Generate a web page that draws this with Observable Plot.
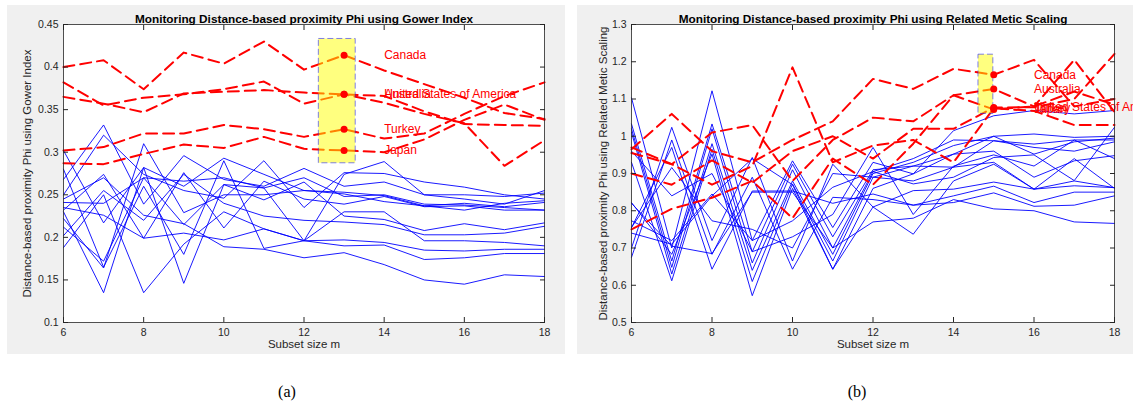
<!DOCTYPE html>
<html><head><meta charset="utf-8">
<script src="https://cdn.jsdelivr.net/npm/d3@7"></script>
<script src="https://cdn.jsdelivr.net/npm/@observablehq/plot@0.6"></script>
<style>
body{margin:0;background:#fff;width:1140px;height:410px;position:relative;overflow:hidden;font-family:"Liberation Sans",Arial,sans-serif}
.panel{position:absolute;top:5px;background:#f0f0f0}
.panel svg{display:block}
.cap{position:absolute;top:383px;font-family:"Liberation Serif","Times New Roman",serif;font-size:16px;transform:translateX(-50%);color:#000}
</style></head><body>
<div id="pa" class="panel" style="left:7px"></div>
<div id="pb" class="panel" style="left:577px"></div>
<div class="cap" style="left:287px">(a)</div>
<div class="cap" style="left:857px">(b)</div>
<script>
// ---------- data ----------
const subsetSizes = [6, 7, 8, 9, 10, 11, 12, 13, 14, 15, 16, 17, 18];
const countries = ["Canada", "United States of America", "Australia", "Turkey", "Japan"];
const xTicks = [6, 8, 10, 12, 14, 16, 18];
const gowerTicks = [0.1, 0.15, 0.2, 0.25, 0.3, 0.35, 0.4, 0.45];
const rmsTicks = [0.5, 0.6, 0.7, 0.8, 0.9, 1.0, 1.1, 1.2, 1.3];

// (a) Gower index - highlighted units (red dashed)
const gowerCanada    = [0.400, 0.408, 0.374, 0.417, 0.404, 0.430, 0.397, 0.414, 0.396, 0.380, 0.364, 0.346, 0.339];
const gowerUSA       = [0.365, 0.357, 0.347, 0.369, 0.371, 0.373, 0.370, 0.368, 0.366, 0.348, 0.333, 0.332, 0.331];
const gowerAustralia = [0.382, 0.355, 0.364, 0.368, 0.374, 0.383, 0.357, 0.368, 0.358, 0.345, 0.334, 0.284, 0.314];
const gowerTurkey    = [0.302, 0.306, 0.322, 0.322, 0.332, 0.327, 0.318, 0.327, 0.316, 0.322, 0.345, 0.366, 0.382];
const gowerJapan     = [0.287, 0.286, 0.298, 0.309, 0.305, 0.318, 0.304, 0.302, 0.300, 0.315, 0.338, 0.356, 0.338];
// (a) other units (blue)
const gowerOthers = [
  [0.302, 0.217, 0.282, 0.260, 0.293, 0.274, 0.255, 0.253, 0.249, 0.237, 0.240, 0.236, 0.241],
  [0.268, 0.332, 0.239, 0.296, 0.268, 0.260, 0.281, 0.260, 0.265, 0.250, 0.245, 0.239, 0.255],
  [0.250, 0.320, 0.274, 0.255, 0.246, 0.290, 0.235, 0.276, 0.275, 0.265, 0.259, 0.250, 0.245],
  [0.241, 0.240, 0.270, 0.266, 0.270, 0.258, 0.270, 0.248, 0.250, 0.239, 0.238, 0.235, 0.232],
  [0.232, 0.274, 0.199, 0.276, 0.211, 0.266, 0.245, 0.239, 0.248, 0.236, 0.237, 0.232, 0.232],
  [0.222, 0.164, 0.310, 0.229, 0.250, 0.250, 0.255, 0.251, 0.242, 0.237, 0.232, 0.240, 0.243],
  [0.212, 0.172, 0.270, 0.215, 0.262, 0.244, 0.265, 0.225, 0.221, 0.208, 0.216, 0.209, 0.217],
  [0.202, 0.255, 0.220, 0.274, 0.240, 0.225, 0.220, 0.218, 0.215, 0.203, 0.203, 0.205, 0.213],
  [0.188, 0.250, 0.135, 0.192, 0.230, 0.210, 0.196, 0.230, 0.230, 0.196, 0.196, 0.194, 0.190],
  [0.230, 0.135, 0.282, 0.146, 0.262, 0.258, 0.196, 0.197, 0.194, 0.185, 0.184, 0.186, 0.186],
  [0.235, 0.226, 0.199, 0.205, 0.197, 0.210, 0.196, 0.190, 0.191, 0.174, 0.176, 0.181, 0.181],
  [0.245, 0.270, 0.226, 0.216, 0.189, 0.186, 0.176, 0.182, 0.168, 0.150, 0.145, 0.156, 0.154],
  [0.280, 0.165, 0.260, 0.180, 0.290, 0.187, 0.196, 0.274, 0.289, 0.250, 0.250, 0.248, 0.252]
];
const gowerHighlight = {m1: 12.37, m2: 13.29, v1: 0.287, v2: 0.433, at: 13};

// (b) Related metric scaling - highlighted units (red dashed)
const rmsCanada    = [0.965, 1.060, 0.960, 0.930, 0.990, 1.040, 1.154, 1.127, 1.181, 1.165, 1.205, 1.080, 1.100];
const rmsUSA       = [0.900, 0.870, 0.935, 0.875, 0.960, 1.000, 0.940, 1.020, 1.020, 1.077, 1.078, 1.100, 1.221];
const rmsAustralia = [0.955, 0.925, 1.010, 1.030, 0.880, 0.990, 1.050, 1.040, 1.110, 1.127, 1.080, 1.205, 1.065];
const rmsTurkey    = [0.970, 0.925, 0.870, 0.920, 1.185, 0.930, 0.975, 0.990, 0.930, 1.075, 1.068, 1.030, 1.030];
const rmsJapan     = [0.750, 0.805, 0.835, 0.880, 0.780, 0.940, 0.870, 0.980, 1.110, 1.072, 1.080, 1.120, 1.085];
// (b) other units (blue)
const rmsOthers = [
  [1.103, 0.700, 1.122, 0.720, 0.934, 0.755, 0.930, 0.899, 1.015, 1.055, 1.069, 1.060, 1.069],
  [1.033, 0.665, 1.033, 0.690, 0.925, 0.730, 0.910, 0.920, 0.952, 1.000, 1.006, 0.997, 1.000],
  [1.020, 0.648, 1.020, 0.660, 0.910, 0.700, 0.905, 0.940, 0.990, 0.988, 0.979, 0.990, 0.990],
  [1.010, 0.630, 0.980, 0.640, 0.880, 0.683, 0.900, 0.930, 0.975, 1.000, 0.952, 0.985, 0.995],
  [0.930, 0.612, 0.965, 0.610, 0.872, 0.665, 0.890, 0.920, 0.917, 0.988, 0.970, 0.960, 0.985],
  [0.822, 0.683, 0.952, 0.572, 0.860, 0.643, 0.860, 0.899, 0.952, 0.960, 0.890, 0.934, 0.948],
  [0.773, 0.720, 0.845, 0.720, 0.773, 0.863, 0.905, 0.872, 0.890, 0.943, 0.950, 0.881, 1.024],
  [0.755, 0.916, 0.773, 0.750, 0.700, 0.900, 0.890, 0.880, 0.917, 0.930, 0.858, 0.880, 0.862],
  [0.700, 1.024, 0.720, 0.943, 0.665, 0.925, 0.810, 0.854, 0.858, 0.877, 0.858, 0.867, 0.862],
  [0.675, 0.990, 0.683, 0.890, 0.643, 0.836, 0.830, 0.815, 0.840, 0.866, 0.822, 0.850, 0.850],
  [0.755, 0.970, 0.643, 0.853, 0.853, 0.820, 0.845, 0.815, 0.822, 0.848, 0.812, 0.815, 0.840],
  [0.820, 0.705, 0.685, 0.850, 0.850, 0.700, 0.770, 0.780, 0.830, 0.805, 0.800, 0.770, 0.766],
  [0.740, 0.710, 0.840, 0.940, 0.870, 0.643, 0.810, 0.737, 0.880, 0.925, 0.858, 0.940, 0.860],
  [0.960, 0.840, 0.900, 0.690, 0.730, 0.790, 0.970, 0.790, 0.920, 0.950, 0.920, 0.990, 0.940]
];
const rmsHighlight = {m1: 14.62, m2: 14.99, v1: 1.06, v2: 1.219, at: 15};

// ---------- helpers ----------
function longRows(seriesList, names) {
  const rows = [];
  seriesList.forEach((vals, i) => vals.forEach((v, j) => rows.push({m: subsetSizes[j], v, s: names[i]})));
  return rows;
}
const fmt = d => String(+d.toFixed(2));
const ink = "#262626";

function panel(el, o) {
  const red = longRows(o.red, countries);
  const blue = longRows(o.blue, o.blue.map((_, i) => "u" + i));
  const marked = red.filter(d => d.m === o.hl.at);
  const chart = Plot.plot({
    width: o.width, height: 349,
    marginLeft: o.ml, marginRight: o.mr, marginTop: 19, marginBottom: 32,
    x: {domain: [6, 18]},
    y: {domain: o.yDomain},
    style: {background: "#f0f0f0", fontFamily: "'Liberation Sans', Arial, sans-serif", fontSize: "10.5px", color: ink, overflow: "hidden"},
    marks: [
      Plot.frame({fill: "white"}),
      Plot.line(blue, {x: "m", y: "v", z: "s", stroke: "#0000ff", strokeWidth: 0.9}),
      Plot.line(red, {x: "m", y: "v", z: "s", stroke: "#ff0000", strokeWidth: 2, strokeDasharray: "11,6"}),
      Plot.rect([o.hl], {x1: "m1", x2: "m2", y1: "v1", y2: "v2", fill: "#ffff00", fillOpacity: 0.5, stroke: "#0000ff", strokeOpacity: 0.5, strokeDasharray: "6,3", strokeWidth: 1}),
      Plot.dot(marked, {x: "m", y: "v", r: 3.5, fill: "#ff0000", stroke: "none"}),
      Plot.text(marked, {x: d => d.m + 1, y: "v", text: "s", textAnchor: "start", fill: "#ff0000", fontSize: 12}),
      Plot.axisX(xTicks, {anchor: "bottom", tickSize: 0, tickPadding: 6, label: null, fill: ink}),
      Plot.axisX(xTicks, {anchor: "bottom", tickSize: -5, tickFormat: () => "", label: null, stroke: ink}),
      Plot.axisX(xTicks, {anchor: "top", tickSize: -5, tickFormat: () => "", label: null, stroke: ink}),
      Plot.axisY(o.yTicks, {anchor: "left", tickSize: 0, tickPadding: 5, tickFormat: fmt, label: null, fill: ink}),
      Plot.axisY(o.yTicks, {anchor: "left", tickSize: -5, tickFormat: () => "", label: null, stroke: ink}),
      Plot.axisY(o.yTicks, {anchor: "right", tickSize: -5, tickFormat: () => "", label: null, stroke: ink}),
      Plot.frame({stroke: ink, strokeWidth: 0.8}),
      Plot.text([o.title], {text: d => d, frameAnchor: "top", dy: -10, fontWeight: "bold", fontSize: 11.8, fill: "#000"}),
      Plot.text(["Subset size m"], {text: d => d, frameAnchor: "bottom", dy: 25, fontSize: 11.5, fill: ink}),
      Plot.text([o.ylabel], {text: d => d, frameAnchor: "left", textAnchor: "middle", dx: o.ylDx, rotate: -90, fontSize: 11.5, fill: ink})
    ]
  });
  document.getElementById(el).appendChild(chart);
}

panel("pa", {
  width: 558, ml: 56, mr: 21,
  yDomain: [0.1, 0.45], yTicks: gowerTicks,
  red: [gowerCanada, gowerUSA, gowerAustralia, gowerTurkey, gowerJapan],
  blue: gowerOthers, hl: gowerHighlight,
  title: "Monitoring Distance-based proximity Phi using Gower Index",
  ylabel: "Distance-based proximity Phi using Gower Index", ylDx: -36
});
panel("pb", {
  width: 556, ml: 54, mr: 19,
  yDomain: [0.5, 1.3], yTicks: rmsTicks,
  red: [rmsCanada, rmsUSA, rmsAustralia, rmsTurkey, rmsJapan],
  blue: rmsOthers, hl: rmsHighlight,
  title: "Monitoring Distance-based proximity Phi using Related Metic Scaling",
  ylabel: "Distance-based proximity Phi using Related Metic Scaling", ylDx: -28
});
</script>
</body></html>
